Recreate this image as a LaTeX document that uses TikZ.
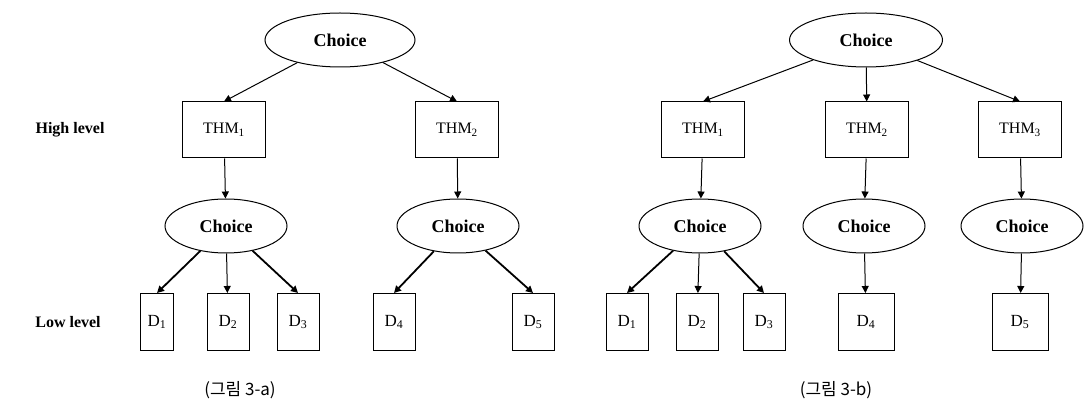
\documentclass[tikz,border=0pt]{standalone}
\usepackage{fontspec}
\setmainfont{Liberation Serif}
\newfontfamily\krfont{Noto Sans CJK KR}
\usetikzlibrary{shapes.geometric,arrows.meta}
\begin{document}
\begin{tikzpicture}[x=1pt, y=-1pt, ->, >={Triangle[length=7pt,width=7pt]}, line width=1pt,
  choice/.style={ellipse, draw, minimum width=122pt, minimum height=54pt, inner sep=0pt, font=\fontsize{18}{20}\selectfont\bfseries},
  thm/.style={rectangle, draw, minimum width=83pt, minimum height=56pt, inner sep=0pt, font=\fontsize{16}{18}\selectfont},
  dbox/.style={rectangle, draw, minimum width=42pt, minimum height=57pt, inner sep=0pt, font=\fontsize{17}{19}\selectfont},
  level/.style={font=\fontsize{16}{18}\selectfont\bfseries},
  caption/.style={font=\fontsize{17}{19}\selectfont\krfont},
  fat/.style={line width=1.8pt}]
\useasboundingbox (0,0) rectangle (1085,403);
\node[level] (hl) at (70,130) {High level};
\node[level] (ll) at (68,322) {Low level};
\node[choice, minimum width=150pt] (ca) at (340,40) {Choice};
\node[thm] (ta1) at (224,130) {THM\textsubscript{1}};
\node[thm] (ta2) at (457,130) {THM\textsubscript{2}};
\node[choice] (ca1) at (226,226) {Choice};
\node[choice] (ca2) at (458,226) {Choice};
\node[dbox, minimum width=33pt] (da1) at (157,322) {D\textsubscript{1}};
\node[dbox] (da2) at (228,322) {D\textsubscript{2}};
\node[dbox] (da3) at (298,322) {D\textsubscript{3}};
\node[dbox] (da4) at (394,322) {D\textsubscript{4}};
\node[dbox] (da5) at (533,322) {D\textsubscript{5}};
\node[caption] (capa) at (240,390) {(그림 3-a)};
\node[choice, minimum width=153pt] (cb) at (866,40) {Choice};
\node[thm] (tb1) at (703,130) {THM\textsubscript{1}};
\node[thm] (tb2) at (867,130) {THM\textsubscript{2}};
\node[thm] (tb3) at (1020,130) {THM\textsubscript{3}};
\node[choice] (cb1) at (700,226) {Choice};
\node[choice] (cb2) at (864,226) {Choice};
\node[choice] (cb3) at (1022,226) {Choice};
\node[dbox] (db1) at (627,322) {D\textsubscript{1}};
\node[dbox] (db2) at (697,322) {D\textsubscript{2}};
\node[dbox] (db3) at (764,322) {D\textsubscript{3}};
\node[dbox, minimum width=56pt] (db4) at (866,322) {D\textsubscript{4}};
\node[dbox, minimum width=56pt] (db5) at (1020,322) {D\textsubscript{5}};
\node[caption] (capb) at (836,390) {(그림 3-b)};
\draw (ca) -- (ta1.north);
\draw (ca) -- (ta2.north);
\draw (ta1) -- (ca1);
\draw (ta2) -- (ca2);
\draw[fat] (ca1) -- (da1.north);
\draw (ca1) -- (da2);
\draw[fat] (ca1) -- (da3.north);
\draw[fat] (ca2) -- (da4.north);
\draw[fat] (ca2) -- (da5.north);
\draw (cb) -- (tb1.north);
\draw (cb) -- (tb2);
\draw (cb) -- (tb3.north);
\draw (tb1) -- (cb1);
\draw (tb2) -- (cb2);
\draw (tb3) -- (cb3);
\draw[fat] (cb1) -- (db1.north);
\draw (cb1) -- (db2);
\draw[fat] (cb1) -- (db3.north);
\draw (cb2) -- (db4);
\draw (cb3) -- (db5);
\end{tikzpicture}
\end{document}
